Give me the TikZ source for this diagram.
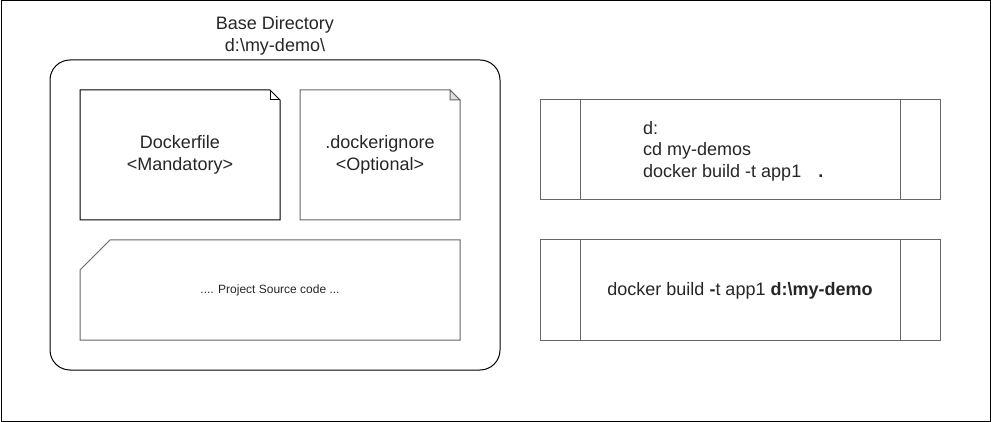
\documentclass[tikz,border=0pt]{standalone}
\usepackage{fontspec}
\setmainfont{Liberation Sans}
\usetikzlibrary{positioning,calc}

\begin{document}
\begin{tikzpicture}[x=1pt, y=-1pt,
        txt/.style={font=\fontsize{18}{21.6}\selectfont, text=black!85, inner sep=0pt},
        smalltxt/.style={font=\fontsize{12}{14.4}\selectfont, text=black!85, inner sep=0pt},
        grayline/.style={draw=black!60, line width=1pt},
        blackline/.style={draw=black, line width=1pt}]
            % Sizes of the folded and cut corners
            \pgfmathsetmacro{\fold}{10}
            \pgfmathsetmacro{\cut}{30}

            \useasboundingbox (0,0) rectangle (991,422);

            % Outer frame
            \draw [blackline] (1,1) rectangle (990,421);

            % Base directory
            \draw [blackline, rounded corners=20] (50,60) rectangle (500,370);
            \node [txt, align=center] (basedir) at (275,36) {Base Directory\\d:\textbackslash my-demo\textbackslash};

            % Dockerfile note
            \coordinate (A1) at (80,90);
            \coordinate (A2) at (280,220);
            \draw [blackline, fill=white] (A1) -- ($(A2|-A1)+(-\fold,0)$) -- ($(A2|-A1)+(0,\fold)$) -- (A2) -- (A1|-A2) -- cycle;
            \draw [blackline] ($(A2|-A1)+(-\fold,0)$) -- ($(A2|-A1)+(-\fold,\fold)$) -- ($(A2|-A1)+(0,\fold)$);
            \node [txt, align=center] (dockerfile) at ($(A1)!0.5!(A2)$) {Dockerfile\\<Mandatory>};

            % .dockerignore note
            \coordinate (B1) at (300,90);
            \coordinate (B2) at (460,220);
            \draw [grayline] (B1) -- ($(B2|-B1)+(-\fold,0)$) -- ($(B2|-B1)+(0,\fold)$) -- (B2) -- (B1|-B2) -- cycle;
            \draw [grayline, fill=black!12] ($(B2|-B1)+(-\fold,0)$) -- ($(B2|-B1)+(-\fold,\fold)$) -- ($(B2|-B1)+(0,\fold)$) -- cycle;
            \node [txt, align=center] (dockerignore) at ($(B1)!0.5!(B2)$) {.dockerignore\\<Optional>};

            % Project source card
            \coordinate (C1) at (80,240);
            \coordinate (C2) at (460,340);
            \draw [grayline] ($(C1)+(\cut,0)$) -- (C2|-C1) -- (C2) -- (C1|-C2) -- ($(C1)+(0,\cut)$) -- cycle;
            \node [smalltxt] (source) at ($(C1)!0.5!(C2)$) {.... Project Source code ...};

            % Build from inside the directory
            \coordinate (P1) at (540,100);
            \coordinate (P2) at (940,200);
            \draw [grayline] (P1) rectangle (P2);
            \draw [grayline] ($(P1)+(40,0)$) -- ($(P1|-P2)+(40,0)$);
            \draw [grayline] ($(P2|-P1)+(-40,0)$) -- ($(P2)+(-40,0)$);
            \node [txt, align=left, anchor=west] (cmdlocal) at (643,151) {d:\\cd my-demos\\docker build -t app1\hspace{17pt}\textbf{.}};

            % Build with the directory as argument
            \coordinate (Q1) at (540,240);
            \coordinate (Q2) at (940,340);
            \draw [grayline] (Q1) rectangle (Q2);
            \draw [grayline] ($(Q1)+(40,0)$) -- ($(Q1|-Q2)+(40,0)$);
            \draw [grayline] ($(Q2|-Q1)+(-40,0)$) -- ($(Q2)+(-40,0)$);
            \node [txt] (cmdpath) at ($(Q1)!0.5!(Q2)+(0,1)$) {docker build \textbf{-}t app1 \textbf{d:\textbackslash my-demo}};
        \end{tikzpicture}
\end{document}
